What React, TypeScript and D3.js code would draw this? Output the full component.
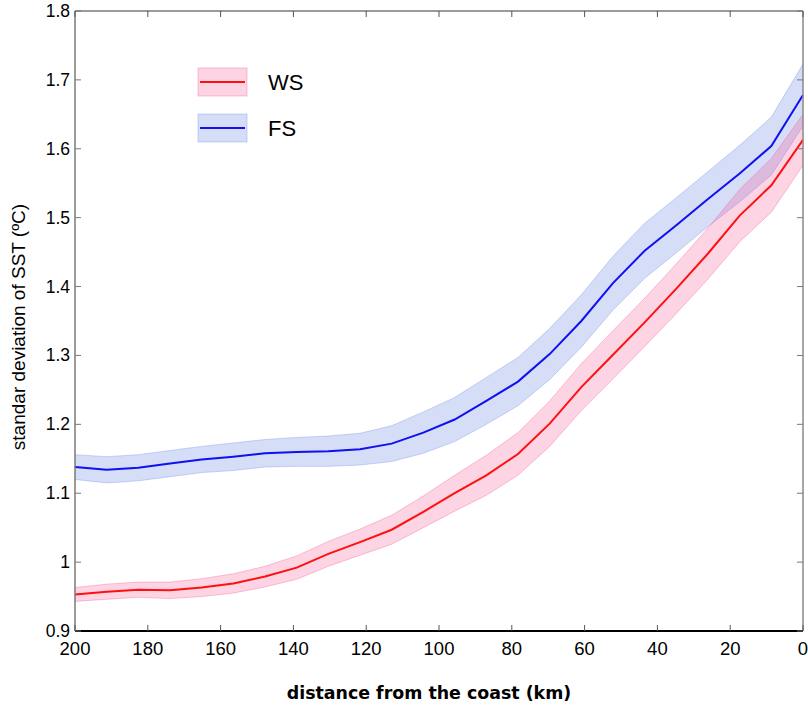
import React from "react";
import * as d3 from "d3";

const distance = [0, 8.7, 17.4, 26.1, 34.8, 43.5, 52.2, 60.9, 69.6, 78.3, 87, 95.7, 104.3, 113, 121.7, 130.4, 139.1, 147.8, 156.5, 165.2, 173.9, 182.6, 191.3, 200];
const wsMean = [1.613, 1.547, 1.503, 1.448, 1.397, 1.348, 1.301, 1.254, 1.201, 1.157, 1.126, 1.1, 1.073, 1.047, 1.029, 1.012, 0.992, 0.979, 0.969, 0.963, 0.959, 0.96, 0.957, 0.953];
const wsErr = [0.037, 0.039, 0.038, 0.037, 0.036, 0.035, 0.035, 0.034, 0.033, 0.031, 0.029, 0.026, 0.023, 0.021, 0.019, 0.018, 0.017, 0.015, 0.014, 0.013, 0.012, 0.011, 0.011, 0.01];
const fsMean = [1.678, 1.604, 1.564, 1.527, 1.489, 1.452, 1.405, 1.35, 1.302, 1.262, 1.234, 1.207, 1.188, 1.172, 1.164, 1.161, 1.16, 1.158, 1.153, 1.149, 1.143, 1.137, 1.134, 1.138];
const fsErr = [0.045, 0.042, 0.041, 0.04, 0.04, 0.04, 0.039, 0.038, 0.037, 0.035, 0.034, 0.032, 0.03, 0.026, 0.023, 0.022, 0.021, 0.02, 0.02, 0.019, 0.019, 0.019, 0.019, 0.018];

const xTicks = [200, 180, 160, 140, 120, 100, 80, 60, 40, 20, 0];
const yTicks = [0.9, 1.0, 1.1, 1.2, 1.3, 1.4, 1.5, 1.6, 1.7, 1.8];
const seriesNames = ["WS", "FS"];

const W = 808;
const H = 707;
const left = 75;
const right = 803;
const top = 11;
const bottom = 631;

export default function App() {
  const x = d3.scaleLinear().domain([200, 0]).range([left, right]);
  const y = d3.scaleLinear().domain([0.9, 1.8]).range([bottom, top]);

  const series = [
    { name: seriesNames[0], mean: wsMean, err: wsErr, line: "#ff1010", fill: "rgba(240,60,130,0.22)", edge: "rgba(240,90,150,0.35)" },
    { name: seriesNames[1], mean: fsMean, err: fsErr, line: "#1010f0", fill: "rgba(90,120,225,0.25)", edge: "rgba(110,140,235,0.35)" },
  ];

  const area = (m: number[], e: number[]) =>
    d3
      .area<number>()
      .x((_, i) => x(distance[i]))
      .y0((_, i) => y(m[i] - e[i]))
      .y1((_, i) => y(m[i] + e[i]))(m.map((_, i) => i)) || "";
  const line = (m: number[]) =>
    d3
      .line<number>()
      .x((_, i) => x(distance[i]))
      .y((d) => y(d))(m) || "";
  const upper = (m: number[], e: number[]) => line(m.map((v, i) => v + e[i]));
  const lower = (m: number[], e: number[]) => line(m.map((v, i) => v - e[i]));

  const fontTick = "'Liberation Sans', Arial, Helvetica, sans-serif";
  const order = [1, 0];

  return (
    <svg width={W} height={H} style={{ position: "absolute", left: 0, top: 0, background: "#fff" }}>
      <rect x={0} y={0} width={W} height={H} fill="#fff" />
      {order.map((k) => {
        const s = series[k];
        return (
          <g key={"band" + s.name}>
            <path d={area(s.mean, s.err)} fill={s.fill} stroke="none" />
            <path d={upper(s.mean, s.err)} fill="none" stroke={s.edge} strokeWidth={1} />
            <path d={lower(s.mean, s.err)} fill="none" stroke={s.edge} strokeWidth={1} />
          </g>
        );
      })}
      {order.map((k) => {
        const s = series[k];
        return <path key={"line" + s.name} d={line(s.mean)} fill="none" stroke={s.line} strokeWidth={2} />;
      })}

      {/* frame */}
      <line x1={left} x2={right} y1={top} y2={top} stroke="#7a7a7a" strokeWidth={1.5} />
      <line x1={right} x2={right} y1={top} y2={bottom} stroke="#8a8a8a" strokeWidth={1.5} />
      <line x1={left} x2={left} y1={top} y2={bottom} stroke="#7a7a7a" strokeWidth={1.5} />
      <line x1={left} x2={right} y1={bottom} y2={bottom} stroke="#000" strokeWidth={2} />

      {xTicks.map((t) => (
        <g key={"xt" + t}>
          <line x1={x(t)} x2={x(t)} y1={bottom} y2={bottom - 6} stroke="#555" strokeWidth={1} />
          <line x1={x(t)} x2={x(t)} y1={top} y2={top + 6} stroke="#555" strokeWidth={1} />
          <text x={x(t)} y={655} textAnchor="middle" fontFamily={fontTick} fontSize={18.5} fill="#000">
            {t}
          </text>
        </g>
      ))}
      {yTicks.map((t) => (
        <g key={"yt" + t}>
          <line x1={left} x2={left + 6} y1={y(t)} y2={y(t)} stroke="#777" strokeWidth={1} />
          <line x1={right} x2={right - 6} y1={y(t)} y2={y(t)} stroke="#777" strokeWidth={1} />
          <text x={70} y={y(t) + 6} textAnchor="end" fontFamily={fontTick} fontSize={17.5} fill="#000">
            {d3.format("")(+t.toFixed(1))}
          </text>
        </g>
      ))}

      <text x={429} y={699} textAnchor="middle" fontFamily="'DejaVu Sans', Verdana, sans-serif" fontWeight="bold" fontSize={17.4} fill="#000">
        distance from the coast (km)
      </text>
      <text
        transform={`translate(25, 327) rotate(-90)`}
        textAnchor="middle"
        fontFamily={fontTick}
        fontSize={19}
        fill="#000"
      >
        standar deviation of SST (ºC)
      </text>

      {/* legend */}
      {series.map((s, i) => {
        const yc = 82 + i * 46;
        return (
          <g key={"lg" + s.name}>
            <rect x={198} y={yc - 14} width={49} height={28} fill={s.fill} stroke={s.edge} strokeWidth={1} />
            <line x1={200} x2={245} y1={yc} y2={yc} stroke={s.line} strokeWidth={2} />
            <text x={268} y={yc + 8} fontFamily={fontTick} fontSize={22} fill="#000">
              {s.name}
            </text>
          </g>
        );
      })}
    </svg>
  );
}
